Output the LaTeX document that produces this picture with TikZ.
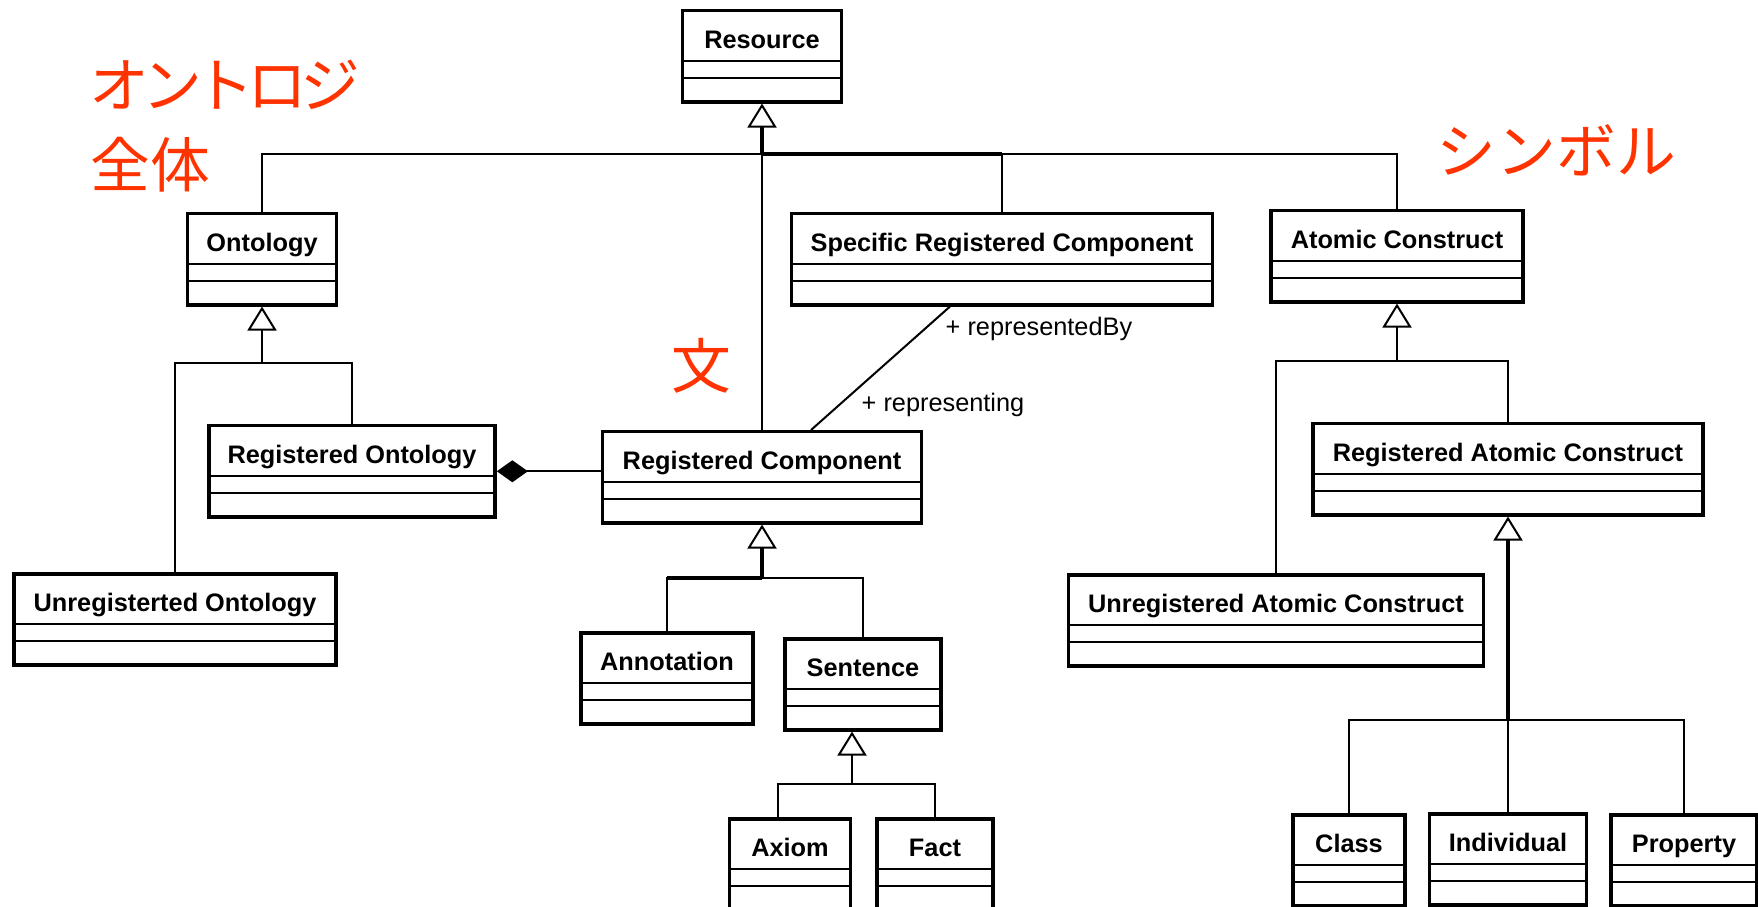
\documentclass[tikz,border=0pt]{standalone}
\usepackage{fontspec}
\setmainfont{Liberation Sans}
\newfontfamily\jpfont{Noto Sans CJK JP}
\newfontfamily\jpnarrowfont[LetterSpace=-12]{Noto Sans CJK JP}
\usetikzlibrary{arrows.meta}
\definecolor{jpred}{RGB}{255,51,0}

\begin{document}
\begin{tikzpicture}[x=0.01cm, y=-0.01cm,
                umlclass/.style={draw, line width=0.035cm, anchor=north, inner xsep=0pt, inner ysep=0pt,
                        minimum height=0.91cm, text height=0.38cm, text depth=0.53cm,
                        font=\bfseries\fontsize{7.2pt}{8pt}\selectfont,
                        path picture={
                                \draw [line width=0.02cm] ([yshift=-0.50cm]path picture bounding box.north west) -- ([yshift=-0.50cm]path picture bounding box.north east);
                                \draw [line width=0.02cm] ([yshift=-0.67cm]path picture bounding box.north west) -- ([yshift=-0.67cm]path picture bounding box.north east);}},
                link/.style={line width=0.02cm},
                trunk/.style={line width=0.035cm},
                gen/.style={-{Triangle[length=0.24cm, width=0.29cm, fill=white, line width=0.02cm]}},
                comp/.style={line width=0.02cm, -{Diamond[length=0.31cm, width=0.22cm]}},
                role/.style={font=\fontsize{7.2pt}{8pt}\selectfont, inner sep=0pt, anchor=base west},
                jp/.style={font=\jpfont\fontsize{17pt}{20pt}\selectfont, text=jpred, inner sep=0pt, anchor=base west}]
                \useasboundingbox (0, 0) rectangle (1758, 907);

                \node [umlclass, minimum width=1.59cm] (resource) at (762, 9) {Resource};
                \node [umlclass, minimum width=1.49cm] (ontology) at (262, 212) {Ontology};
                \node [umlclass, minimum width=4.21cm] (specific) at (1002, 212) {Specific Registered Component};
                \node [umlclass, minimum width=2.52cm] (atomic) at (1397, 209) {Atomic Construct};
                \node [umlclass, minimum width=2.86cm] (regont) at (352, 424) {Registered Ontology};
                \node [umlclass, minimum width=3.19cm] (regcomp) at (762, 430) {Registered Component};
                \node [umlclass, minimum width=3.90cm] (regatomic) at (1508, 422) {Registered Atomic Construct};
                \node [umlclass, minimum width=3.22cm] (unregont) at (175, 572) {Unregisterted Ontology};
                \node [umlclass, minimum width=4.15cm] (unregatomic) at (1276, 573) {Unregistered Atomic Construct};
                \node [umlclass, minimum width=1.72cm] (annotation) at (667, 631) {Annotation};
                \node [umlclass, minimum width=1.56cm] (sentence) at (863, 637) {Sentence};
                \node [umlclass, minimum width=1.21cm] (axiom) at (790, 817) {Axiom};
                \node [umlclass, minimum width=1.16cm] (fact) at (935, 817) {Fact};
                \node [umlclass, minimum width=1.12cm] (class) at (1349, 813) {Class};
                \node [umlclass, minimum width=1.57cm] (individual) at (1508, 812) {Individual};
                \node [umlclass, minimum width=1.46cm] (property) at (1684, 813) {Property};

                \node [jp, font=\jpnarrowfont\fontsize{17pt}{20pt}\selectfont] (whole) at (89, 108) {オントロジ};
                \node [jp] (whole2) at (90, 188) {全体};
                \node [jp] (symbol) at (1436, 174) {シンボル};
                \node [jp] (sent) at (671, 389) {文};

                \coordinate (resbus) at (762, 154);
                \coordinate (ontbus) at (262, 363);
                \coordinate (atombus) at (1397, 361);
                \coordinate (compbus) at (762, 578);
                \coordinate (sentbus) at (852, 784);
                \coordinate (regatombus) at (1508, 720);

                \draw [trunk, gen] (resbus) -- (resource.south);
                \draw [trunk] (resbus) -- (resbus -| specific.north);
                \draw [link] (ontology.north) |- (resbus);
                \draw [link] (specific.north) |- (resbus);
                \draw [link] (atomic.north) |- (resbus);
                \draw [link] (regcomp.north) -- (resbus);

                \draw [link, gen] (ontbus) -- (ontology.south);
                \draw [link] (unregont.north) |- (ontbus);
                \draw [link] (regont.north) |- (ontbus);

                \draw [link, gen] (atombus) -- (atomic.south);
                \draw [link] (unregatomic.north) |- (atombus);
                \draw [link] (regatomic.north) |- (atombus);

                \draw [trunk, gen] (compbus) -- (regcomp.south);
                \draw [trunk] (compbus) -- (compbus -| annotation.north);
                \draw [link] (annotation.north) |- (compbus);
                \draw [link] (sentence.north) |- (compbus);

                \draw [link, gen] (sentbus) -- (sentbus |- sentence.south);
                \draw [link] ([xshift=-0.12cm]axiom.north) |- (sentbus);
                \draw [link] (fact.north) |- (sentbus);

                \draw [trunk, gen] (regatombus) -- (regatomic.south);
                \draw [link] (class.north) |- (regatombus);
                \draw [link] (individual.north) -- (regatombus);
                \draw [link] (property.north) |- (regatombus);

                \draw [comp] (regcomp.west |- regont.east) -- (regont.east);

                \draw [link] ([xshift=-0.52cm]specific.south) -- ([xshift=0.49cm]regcomp.north);
                \node [role] (by) at (945, 336) {+ representedBy};
                \node [role] (ing) at (861, 412) {+ representing};
\end{tikzpicture}
\end{document}
